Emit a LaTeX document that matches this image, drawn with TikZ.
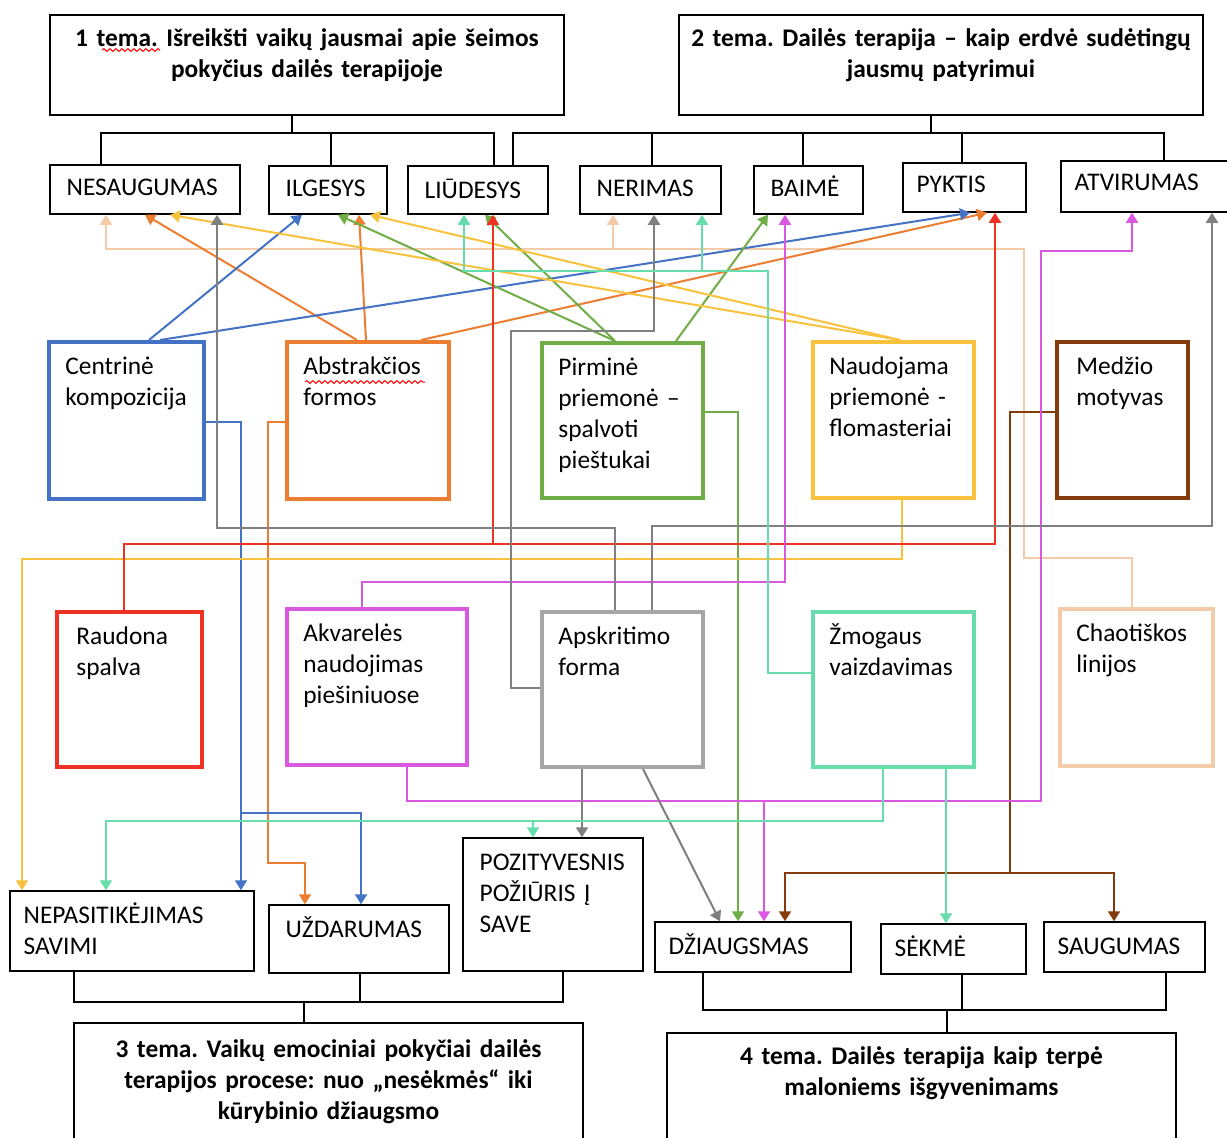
\documentclass[tikz,border=0pt]{standalone}
\usepackage{fontspec}
\setmainfont{Carlito}
\frenchspacing
\usetikzlibrary{arrows.meta,fit,decorations.pathmorphing}

\definecolor{cblue}{HTML}{4472C4}
\definecolor{corange}{HTML}{ED7D31}
\definecolor{cgreen}{HTML}{70AD47}
\definecolor{cyellow}{HTML}{F8C23C}
\definecolor{cbrown}{HTML}{843C0C}
\definecolor{cred}{HTML}{EE3325}
\definecolor{cmag}{HTML}{DA58E0}
\definecolor{cgray}{HTML}{A6A6A6}
\definecolor{cdgray}{HTML}{7F7F7F}
\definecolor{cteal}{HTML}{66DDAA}
\definecolor{cpeach}{HTML}{F4CBA8}

\tikzset{
  tbox/.style={draw=black, line width=0.75pt, inner sep=0pt},
  fbox/.style={draw=#1, line width=2pt, inner sep=0pt},
  ttl/.style={anchor=north, align=center, text width=270pt, text height=9pt, inner sep=0pt,
    font=\bfseries\fontsize{12.7}{15.5}\selectfont, yshift=-6.7pt},
  txt/.style={anchor=north west, align=left, text width=150pt, text height=9pt, inner sep=0pt,
    font=\fontsize{12.7}{15.5}\selectfont},
  ftxt/.style={txt, xshift=9pt, yshift=-8pt},
  btxt/.style={txt, xshift=7pt, yshift=-7.2pt},
  etxt/.style={txt, xshift=8.5pt, yshift=-6.2pt},
  lnk/.style={draw=#1, line width=1pt, -{Triangle[length=5pt,width=6pt]}},
  tree/.style={line width=1.3pt},
  typo/.style={draw=red, line width=0.5pt, decorate, decoration={snake, amplitude=0.7pt, segment length=3pt}},
}

\begin{document}
\begin{tikzpicture}[x=0.5pt, y=-0.5pt]
  \path[use as bounding box, fill=white] (0,0) rectangle (1227,1137);

  \node[tbox, fit={(50,15) (564,115)}, label={[ttl]north:{1 tema. Išreikšti vaikų jausmai apie šeimos\\pokyčius dailės terapijoje}}] (t1) {};
  \node[tbox, fit={(679,15) (1203,115)}, label={[ttl]north:{2 tema. Dailės terapija – kaip erdvė sudėtingų\\jausmų patyrimui}}] (t2) {};
  \node[tbox, fit={(74,1023) (583,1160)}, label={[ttl, yshift=-1.5pt]north:{3 tema. Vaikų emociniai pokyčiai dailės\\terapijos procese: nuo „nesėkmės“ iki\\kūrybinio džiaugsmo}}] (t3) {};
  \node[tbox, fit={(667,1033) (1176,1160)}, label={[ttl]north:{4 tema. Dailės terapija kaip terpė\\maloniems išgyvenimams}}] (t4) {};

  \node[tbox, fit={(50,165) (240,214)}, label={[etxt]north west:NESAUGUMAS}] (nes) {};
  \node[tbox, fit={(269,166) (387,214)}, label={[etxt]north west:ILGESYS}] (ilg) {};
  \node[tbox, fit={(408,166) (548,214)}, label={[etxt, yshift=-1pt]north west:LIŪDESYS}] (liu) {};
  \node[tbox, fit={(580,166) (721,214)}, label={[etxt]north west:NERIMAS}] (ner) {};
  \node[tbox, fit={(754,166) (863,214)}, label={[etxt]north west:BAIMĖ}] (bai) {};
  \node[tbox, fit={(903,163) (1026,212)}, label={[etxt, xshift=-1.5pt, yshift=0.5pt]north west:PYKTIS}] (pyk) {};
  \node[tbox, fit={(1061,161) (1235,212)}, label={[etxt, xshift=-1.5pt, yshift=0.5pt]north west:ATVIRUMAS}] (atv) {};

  \node[fbox=cblue, fit={(49,342) (204,499)}, label={[ftxt]north west:Centrinė\\kompozicija}] (cen) {};
  \node[fbox=corange, fit={(287,342) (449,499)}, label={[ftxt]north west:Abstrakčios\\formos}] (abs) {};
  \node[fbox=cgreen, fit={(542,343) (703,498)}, label={[ftxt]north west:Pirminė\\priemonė –\\spalvoti\\pieštukai}] (pir) {};
  \node[fbox=cyellow, fit={(813,342) (974,498)}, label={[ftxt]north west:Naudojama\\priemonė -\\flomasteriai}] (nau) {};
  \node[fbox=cbrown, fit={(1057,342) (1188,498)}, label={[ftxt, xshift=1.5pt]north west:Medžio\\motyvas}] (med) {};
  \node[fbox=cred, fit={(57,612) (202,767)}, label={[ftxt, xshift=1.5pt]north west:Raudona\\spalva}] (rau) {};
  \node[fbox=cmag, fit={(287,609) (467,765)}, label={[ftxt]north west:Akvarelės\\naudojimas\\piešiniuose}] (akv) {};
  \node[fbox=cgray, fit={(542,612) (703,767)}, label={[ftxt]north west:Apskritimo\\forma}] (aps) {};
  \node[fbox=cteal, fit={(813,612) (974,767)}, label={[ftxt]north west:Žmogaus\\vaizdavimas}] (zmo) {};
  \node[fbox=cpeach, fit={(1060,609) (1213,766)}, label={[ftxt]north west:Chaotiškos\\linijos}] (cha) {};

  \node[tbox, fit={(10,891) (254,971)}, label={[btxt]north west:NEPASITIKĖJIMAS\\SAVIMI}] (nep) {};
  \node[tbox, fit={(269,905) (449,973)}, label={[btxt, xshift=1.5pt]north west:UŽDARUMAS}] (uzd) {};
  \node[tbox, fit={(463,838) (643,971)}, label={[btxt, xshift=1.5pt]north west:POZITYVESNIS\\POŽIŪRIS Į\\SAVE}] (poz) {};
  \node[tbox, fit={(655,922) (851,972)}, label={[btxt]north west:DŽIAUGSMAS}] (dzi) {};
  \node[tbox, fit={(881,924) (1026,974)}, label={[btxt]north west:SĖKMĖ}] (sek) {};
  \node[tbox, fit={(1044,922) (1205,972)}, label={[btxt]north west:SAUGUMAS}] (sau) {};

  \draw[typo] (102,50) -- (160,50);
  \draw[typo] (305,382) -- (425,382);

  \draw[tree] (t1.south -| 292,0) -- (292,133);
  \draw[tree] (nes.north -| 101,0) -- (101,133) -- (494,133) -- (liu.north -| 494,0);
  \draw[tree] (ilg.north -| 331,0) -- (331,133);
  \draw[tree] (t2.south -| 931,0) -- (931,133);
  \draw[tree] (liu.north -| 513,0) -- (513,133) -- (1164,133) -- (atv.north -| 1164,0);
  \draw[tree] (ner.north -| 652,0) -- (652,133);
  \draw[tree] (bai.north -| 803,0) -- (803,133);
  \draw[tree] (pyk.north -| 962,0) -- (962,133);
  \draw[tree] (nep.south -| 74,0) -- (74,1002) -- (563,1002) -- (poz.south -| 563,0);
  \draw[tree] (uzd.south -| 360,0) -- (360,1002);
  \draw[tree] (304,1002) -- (t3.north -| 304,0);
  \draw[tree] (dzi.south -| 703,0) -- (703,1010) -- (1166,1010) -- (sau.south -| 1166,0);
  \draw[tree] (sek.south -| 962,0) -- (962,1010);
  \draw[tree] (947,1010) -- (t4.north -| 947,0);

  \draw[lnk=cpeach] (cha.north -| 1132,0) |- (1024,558) -- (1024,249) -- (613,249) coordinate (pj) -- (106,249) -- (nes.south -| 106,0);
  \draw[lnk=cpeach] (pj) -- (ner.south -| pj);

  \draw[lnk=corange] (abs.north -| 357,0) -- (nes.south -| 145,0);
  \draw[lnk=corange] (abs.north -| 366,0) -- (ilg.south -| 359,0);
  \draw[lnk=corange] (abs.north -| 421,0) -- (pyk.south -| 987,0);
  \draw[lnk=corange] (abs.west |- 0,422) -| (268,863) -| (uzd.north -| 305,0);

  \draw[lnk=cblue] (cen.north -| 149,0) -- (ilg.south -| 302,0);
  \draw[lnk=cblue] (cen.north -| 160,0) -- (pyk.south -| 970,0);
  \draw[lnk=cblue] (cen.east |- 0,422) -| (241,813) coordinate (bj) -- (nep.north -| bj);
  \draw[lnk=cblue] (bj) -| (uzd.north -| 361,0);

  \draw[lnk=cgreen] (pir.north -| 615,0) -- (ilg.south -| 338,0);
  \draw[lnk=cgreen] (pir.north -| 615,0) -- (liu.south -| 485,0);
  \draw[lnk=cgreen] (pir.north -| 676,0) -- (bai.south -| 768,0);
  \draw[lnk=cgreen] (pir.east |- 0,412) -| (dzi.north -| 738,0);

  \draw[lnk=cyellow] (nau.north -| 900,0) -- (nes.south -| 170,0);
  \draw[lnk=cyellow] (nau.north -| 900,0) -- (ilg.south -| 370,0);
  \draw[lnk=cyellow] (nau.south -| 902,0) |- (22,559) -- (nep.north -| 22,0);

  \draw[lnk=cbrown] (med.west |- 0,412) -| (1010,873) coordinate (mj) -| (dzi.north -| 785,0);
  \draw[lnk=cbrown] (mj) -| (sau.north -| 1114,0);

  \draw[lnk=cred] (rau.north -| 124,0) |- (493,544) coordinate (rj) -- (liu.south -| rj);
  \draw[lnk=cred] (rj) -| (pyk.south -| 995,0);

  \draw[lnk=cmag] (akv.north -| 362,0) |- (785,582) -- (bai.south -| 785,0);
  \draw[lnk=cmag] (akv.south -| 407,0) |- (764,801) coordinate (gj) -| (1041,251) -| (atv.south -| 1132,0);
  \draw[lnk=cmag] (gj) -- (dzi.north -| gj);

  \draw[lnk=cdgray] (aps.north -| 615,0) |- (217,528) -- (nes.south -| 217,0);
  \draw[lnk=cdgray] (aps.north -| 652,0) |- (1212,526) -- (atv.south -| 1212,0);
  \draw[lnk=cdgray] (aps.west |- 0,688) -| (511,331) -| (ner.south -| 654,0);
  \draw[lnk=cdgray] (aps.south -| 582,0) -- (poz.north -| 582,0);
  \draw[lnk=cdgray] (aps.south -| 643,0) -- (dzi.north -| 720,0);

  \draw[lnk=cteal] (zmo.west |- 0,673) -| (768,271) -- (702,271) coordinate (tj) -| (liu.south -| 464,0);
  \draw[lnk=cteal] (tj) -- (ner.south -| tj);
  \draw[lnk=cteal] (zmo.south -| 883,0) |- (533,821) coordinate (sj) -| (nep.north -| 106,0);
  \draw[lnk=cteal] (sj) -- (poz.north -| sj);
  \draw[lnk=cteal] (zmo.south -| 946,0) -- (sek.north -| 946,0);
\end{tikzpicture}
\end{document}
